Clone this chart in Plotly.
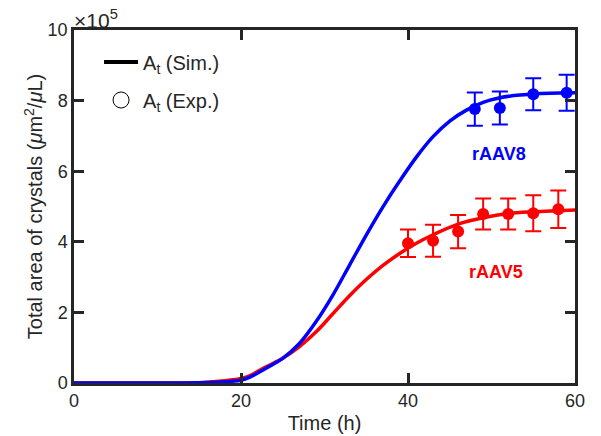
import plotly.graph_objects as go

# Simulated total crystal area (x10^5 um^2/uL) vs time (h)
sim5_t = [0, 5, 10, 15, 17, 19, 20, 21, 23, 25, 27, 29, 31, 33, 35, 37, 39, 41, 43, 46, 49, 52, 55, 58, 60]
sim5_a = [0, 0, 0, 0.01, 0.04, 0.09, 0.13, 0.20, 0.46, 0.70, 1.03, 1.45, 1.96, 2.47, 2.93, 3.33, 3.67,
          3.96, 4.20, 4.50, 4.68, 4.80, 4.85, 4.88, 4.90]

sim8_t = [0, 5, 10, 15, 17, 19, 20, 21, 23, 25, 27, 29, 31, 33, 35, 37, 39, 41, 43, 45, 47, 49, 51, 53, 55, 57, 60]
sim8_a = [0, 0, 0, 0.005, 0.02, 0.05, 0.08, 0.16, 0.42, 0.70, 1.12, 1.74, 2.49, 3.34, 4.19, 4.99, 5.72,
          6.40, 6.98, 7.42, 7.73, 7.95, 8.08, 8.15, 8.19, 8.21, 8.22]

# Measured values with error bars
exp5_t = [40, 43, 46, 49, 52, 55, 58]
exp5_a = [3.96, 4.03, 4.29, 4.79, 4.79, 4.81, 4.92]
exp5_err = [0.39, 0.45, 0.47, 0.44, 0.44, 0.51, 0.53]

exp8_t = [48, 51, 55, 59]
exp8_a = [7.76, 7.79, 8.18, 8.22]
exp8_err = [0.47, 0.47, 0.45, 0.51]

x_ticks = [0, 20, 40, 60]
y_ticks = [0, 2, 4, 6, 8, 10]

RED = "#ff0000"
BLUE = "#0000ff"
AX = "#262626"
FONT = "Liberation Sans, Arial, sans-serif"

fig = go.Figure()

fig.add_trace(go.Scatter(x=sim5_t, y=sim5_a, mode="lines", line=dict(color=RED, width=3.5, shape="spline"),
                         showlegend=False, hoverinfo="skip"))
fig.add_trace(go.Scatter(x=sim8_t, y=sim8_a, mode="lines", line=dict(color=BLUE, width=3.5, shape="spline"),
                         showlegend=False, hoverinfo="skip"))
fig.add_trace(go.Scatter(x=exp5_t, y=exp5_a, mode="markers",
                         marker=dict(color=RED, size=12),
                         error_y=dict(type="data", array=exp5_err, color=RED, thickness=2, width=8),
                         showlegend=False))
fig.add_trace(go.Scatter(x=exp8_t, y=exp8_a, mode="markers",
                         marker=dict(color=BLUE, size=12),
                         error_y=dict(type="data", array=exp8_err, color=BLUE, thickness=2, width=8),
                         showlegend=False))

# Legend entries
fig.add_trace(go.Scatter(x=[None], y=[None], mode="lines", line=dict(color="black", width=4),
                         name="A<sub>t</sub> (Sim.)", legend="legend"))
fig.add_trace(go.Scatter(x=[None], y=[None], mode="markers",
                         marker=dict(color="white", size=20, line=dict(color="black", width=1)),
                         name="A<sub>t</sub> (Exp.)", legend="legend2"))

fig.add_annotation(x=50.9, y=6.5, text="<b>rAAV8</b>", showarrow=False, xref="x", yref="y",
                   font=dict(color=BLUE, size=18, family=FONT))
fig.add_annotation(x=50.5, y=3.15, text="<b>rAAV5</b>", showarrow=False, xref="x", yref="y",
                   font=dict(color=RED, size=18, family=FONT))
fig.add_annotation(x=0, y=1.0, xref="paper", yref="paper", xanchor="left", yanchor="bottom",
                   text="×10<sup>5</sup>", showarrow=False, yshift=-4, xshift=-2,
                   font=dict(color=AX, size=21, family=FONT))

axis_common = dict(showline=True, linecolor=AX, linewidth=2.5, mirror="ticks", ticks="inside",
                   ticklen=10, tickwidth=2.5, tickcolor=AX, showgrid=False, zeroline=False,
                   automargin=False, tickfont=dict(size=18, color=AX, family=FONT))

leg_common = dict(bgcolor="rgba(0,0,0,0)", font=dict(size=20, color=AX, family=FONT),
                  xanchor="left", yanchor="middle", itemwidth=34, itemsizing="trace")

fig.update_layout(
    width=601, height=436,
    margin=dict(l=74, r=26, t=30, b=53),
    plot_bgcolor="white", paper_bgcolor="white",
    font=dict(family=FONT, color=AX),
    xaxis=dict(range=[0, 60], tickvals=x_ticks,
               title=dict(text="Time (h)", font=dict(size=20, color=AX), standoff=6),
               **axis_common),
    yaxis=dict(range=[0, 10], tickvals=y_ticks,
               title=dict(text="Total area of crystals (<i>μ</i>m<sup>2</sup>/<i>μ</i>L)",
                          font=dict(size=20, color=AX), standoff=0),
               **axis_common),
    legend=dict(x=0.05, y=(383 - 62) / 353, **leg_common),
    legend2=dict(x=0.05, y=(383 - 100) / 353, **leg_common),
)

fig.write_html("out.html")
